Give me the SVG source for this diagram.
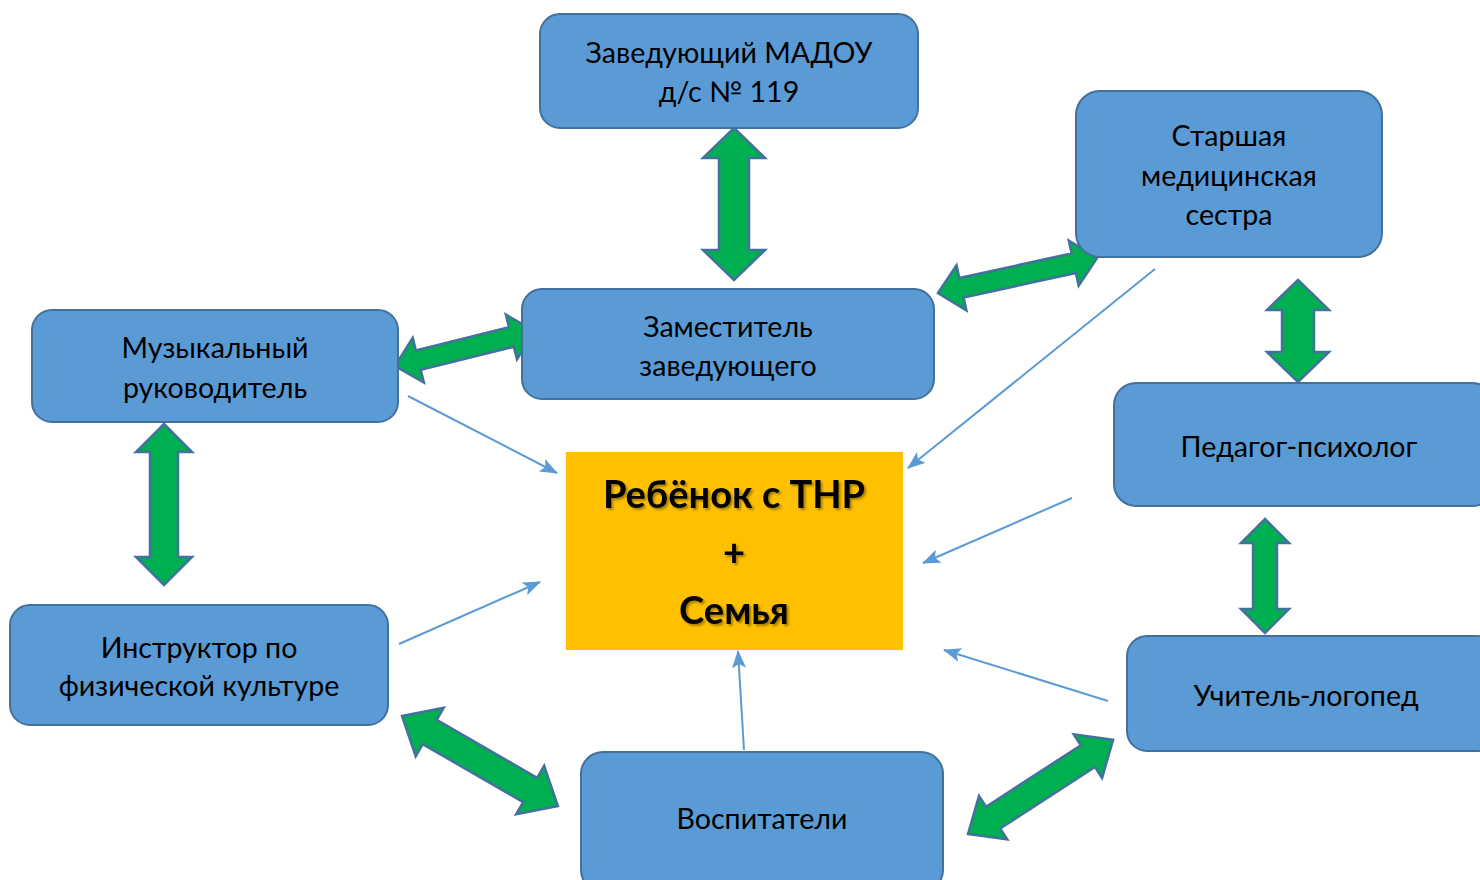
<svg xmlns="http://www.w3.org/2000/svg" width="1480" height="880" viewBox="0 0 1480 880">
<style>
.node rect{fill:#5B9BD5;stroke:#41719C;stroke-width:2}
.node text{font-family:Lato,"Liberation Sans",sans-serif;font-size:28.6px;fill:#000;text-anchor:middle;dominant-baseline:central}
.dbl{fill:#00B050;stroke:#41719C;stroke-width:2.5;stroke-linejoin:miter}
.thin{stroke:#5B9BD5;stroke-width:2;fill:none;marker-end:url(#ah)}
.center text{font-family:Lato,"Liberation Sans",sans-serif;font-size:38px;font-weight:bold;fill:#000;text-anchor:middle;dominant-baseline:central}
</style>
<defs>
<marker id="ah" markerUnits="userSpaceOnUse" markerWidth="20" markerHeight="16" refX="17" refY="7" orient="auto">
<path d="M0,0 L18,7 L0,14 L4,7 Z" fill="#5B9BD5"/>
</marker>
<filter id="sh" x="-10%" y="-10%" width="130%" height="130%">
<feDropShadow dx="2" dy="2" stdDeviation="1.2" flood-color="#000" flood-opacity="0.35"/>
</filter>
</defs>
<rect width="1480" height="880" fill="#fff"/>
<g id="connectors">
<line class="thin" x1="408" y1="396" x2="557" y2="473"/>
<line class="thin" x1="1155" y1="269" x2="908" y2="468"/>
<line class="thin" x1="1072" y1="498" x2="923" y2="563"/>
<line class="thin" x1="1108" y1="701" x2="944" y2="650"/>
<line class="thin" x1="744" y1="750" x2="738" y2="651"/>
<line class="thin" x1="399" y1="644" x2="540" y2="582"/>
<polygon class="dbl" transform="translate(734,128) rotate(90)" points="0,0 30,-31 30,-15 122,-15 122,-31 152,0 122,31 122,15 30,15 30,31"/>
<polygon class="dbl" transform="translate(395,366) rotate(-14)" points="0,0 24,-23 24,-10 120,-10 120,-23 144,0 120,23 120,10 24,10 24,23"/>
<polygon class="dbl" transform="translate(938,293) rotate(-12.4)" points="0,0 24,-23 24,-10 139,-10 139,-23 163,0 139,23 139,10 24,10 24,23"/>
<polygon class="dbl" transform="translate(1298,280) rotate(90)" points="0,0 30,-31 30,-16 72,-16 72,-31 102,0 72,31 72,16 30,16 30,31"/>
<polygon class="dbl" transform="translate(1265,519) rotate(90)" points="0,0 24,-24 24,-12 90,-12 90,-24 114,0 90,24 90,12 24,12 24,24"/>
<polygon class="dbl" transform="translate(164,424) rotate(90)" points="0,0 28,-28 28,-14 133,-14 133,-28 161,0 133,28 133,14 28,14 28,28"/>
<polygon class="dbl" transform="translate(402,716) rotate(30)" points="0,0 32,-28 32,-14 148,-14 148,-28 180,0 148,28 148,14 32,14 32,28"/>
<polygon class="dbl" transform="translate(968,834) rotate(-33)" points="0,0 30,-26 30,-13 143,-13 143,-26 173,0 143,26 143,13 30,13 30,26"/>
</g>
<g id="n-zaveduyushchiy" class="node">
<rect x="540" y="14" width="378" height="114" rx="20"/>
<text x="729" y="52">Заведующий МАДОУ</text>
<text x="729" y="91">д/с № 119</text>
</g>
<g id="n-zamestitel" class="node">
<rect x="522" y="289" width="412" height="110" rx="20"/>
<text x="728" y="326">Заместитель</text>
<text x="728" y="365">заведующего</text>
</g>
<g id="n-medsestra" class="node">
<rect x="1076" y="91" width="306" height="166" rx="24"/>
<text x="1229" y="135">Старшая</text>
<text x="1229" y="175">медицинская</text>
<text x="1229" y="214">сестра</text>
</g>
<g id="n-muz" class="node">
<rect x="32" y="310" width="366" height="112" rx="20"/>
<text x="215" y="347">Музыкальный</text>
<text x="215" y="387">руководитель</text>
</g>
<g id="n-psiholog" class="node">
<rect x="1114" y="383" width="380" height="123" rx="22"/>
<text x="1299" y="446">Педагог-психолог</text>
</g>
<g id="n-instruktor" class="node">
<rect x="10" y="605" width="378" height="120" rx="20"/>
<text x="199" y="647">Инструктор по</text>
<text x="199" y="685">физической культуре</text>
</g>
<g id="n-logoped" class="node">
<rect x="1127" y="636" width="370" height="115" rx="20"/>
<text x="1306" y="695">Учитель-логопед</text>
</g>
<g id="n-vospitateli" class="node">
<rect x="581" y="752" width="362" height="140" rx="22"/>
<text x="762" y="818">Воспитатели</text>
</g>
<g id="n-center" class="center">
<rect x="566" y="452" width="337" height="198" fill="#FFC000"/>
<g filter="url(#sh)">
<text x="734" y="493">Ребёнок с ТНР</text>
<text x="734" y="551">+</text>
<text x="734" y="609">Семья</text>
</g>
</g>
</svg>
